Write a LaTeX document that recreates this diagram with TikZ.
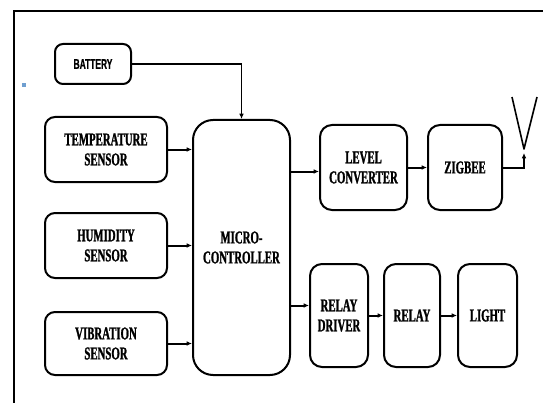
\documentclass[tikz,border=0pt]{standalone}
\usepackage{fontspec}
\usetikzlibrary{arrows.meta}
\newfontfamily\boxserif[FakeStretch=0.6,FakeBold=1.2]{Liberation Serif Bold}
\newfontfamily\boxsans[FakeStretch=0.6,FakeBold=0.8]{Liberation Sans Bold}
\definecolor{dotblue}{HTML}{6F9FD0}
\tikzset{
  block/.style={draw, line width=1.5pt, rounded corners=7.5pt, inner sep=0pt,
    align=center, font=\boxserif\fontsize{13.5}{15}\selectfont},
  link/.style={line width=1.5pt, -{Latex[length=4pt,width=3.5pt]}},
  thinlink/.style={line width=1.1pt, -{Latex[length=4pt,width=3.5pt]}},
}
\begin{document}
\begin{tikzpicture}[x=0.75pt,y=-0.75pt]
\useasboundingbox (0,0) rectangle (543,403);
% outer frame (left and top edges)
\draw[line width=1.5pt] (14,403) -- (14,11) -- (543,11);
\fill[dotblue] (22,83) rectangle (26,87);

% blocks
\node[block, minimum width=57pt, minimum height=30pt, rounded corners=6pt,
      font=\boxsans\fontsize{10.5}{12}\selectfont] (bat) at (93,64) {BATTERY};
\node[block, minimum width=91.5pt, minimum height=48.75pt] (temp) at (106,149.5) {TEMPERATURE\\SENSOR};
\node[block, minimum width=91.5pt, minimum height=48.75pt] (hum) at (106,245.5) {HUMIDITY\\SENSOR};
\node[block, minimum width=91.5pt, minimum height=47.25pt] (vib) at (106,343.5) {VIBRATION\\SENSOR};
\node[block, minimum width=72.75pt, minimum height=191.25pt, rounded corners=15pt] (mc) at (241.5,247.5) {MICRO-\\CONTROLLER};
\node[block, minimum width=65.25pt, minimum height=63.75pt, rounded corners=9pt] (lc) at (363.5,167.5) {LEVEL\\CONVERTER};
\node[block, minimum width=55.5pt, minimum height=63.75pt, rounded corners=9pt] (zb) at (465,167.5) {ZIGBEE};
\node[block, minimum width=43.5pt, minimum height=77.25pt, rounded corners=9pt] (rd) at (339,315.5) {RELAY\\DRIVER};
\node[block, minimum width=42pt, minimum height=77.25pt, rounded corners=9pt] (relay) at (412,315.5) {RELAY};
\node[block, minimum width=44.25pt, minimum height=77.25pt, rounded corners=9pt] (light) at (487.5,315.5) {LIGHT};

% antenna
\coordinate (ant) at (524,149);
\draw[line width=1.2pt, line join=round] (512,97) -- (ant) -- (537,97);

% connectors
\draw[thinlink] (bat.east) -| (mc.north);
\draw[link] (temp.east) -- (temp.east -| mc.west);
\draw[link] (hum.east) -- (hum.east -| mc.west);
\draw[link] (vib.east) -- (vib.east -| mc.west);
\draw[link] ([yshift=-3pt]lc.west -| mc.east) -- ([yshift=-3pt]lc.west);
\draw[link] (lc.east) -- (zb.west);
\draw[link] (zb.east) -| ([yshift=-3pt]ant);
\draw[link] ([yshift=7.5pt]rd.west -| mc.east) -- ([yshift=7.5pt]rd.west);
\draw[link] (rd.east) -- (relay.west);
\draw[link] (relay.east) -- (light.west);
\end{tikzpicture}
\end{document}
